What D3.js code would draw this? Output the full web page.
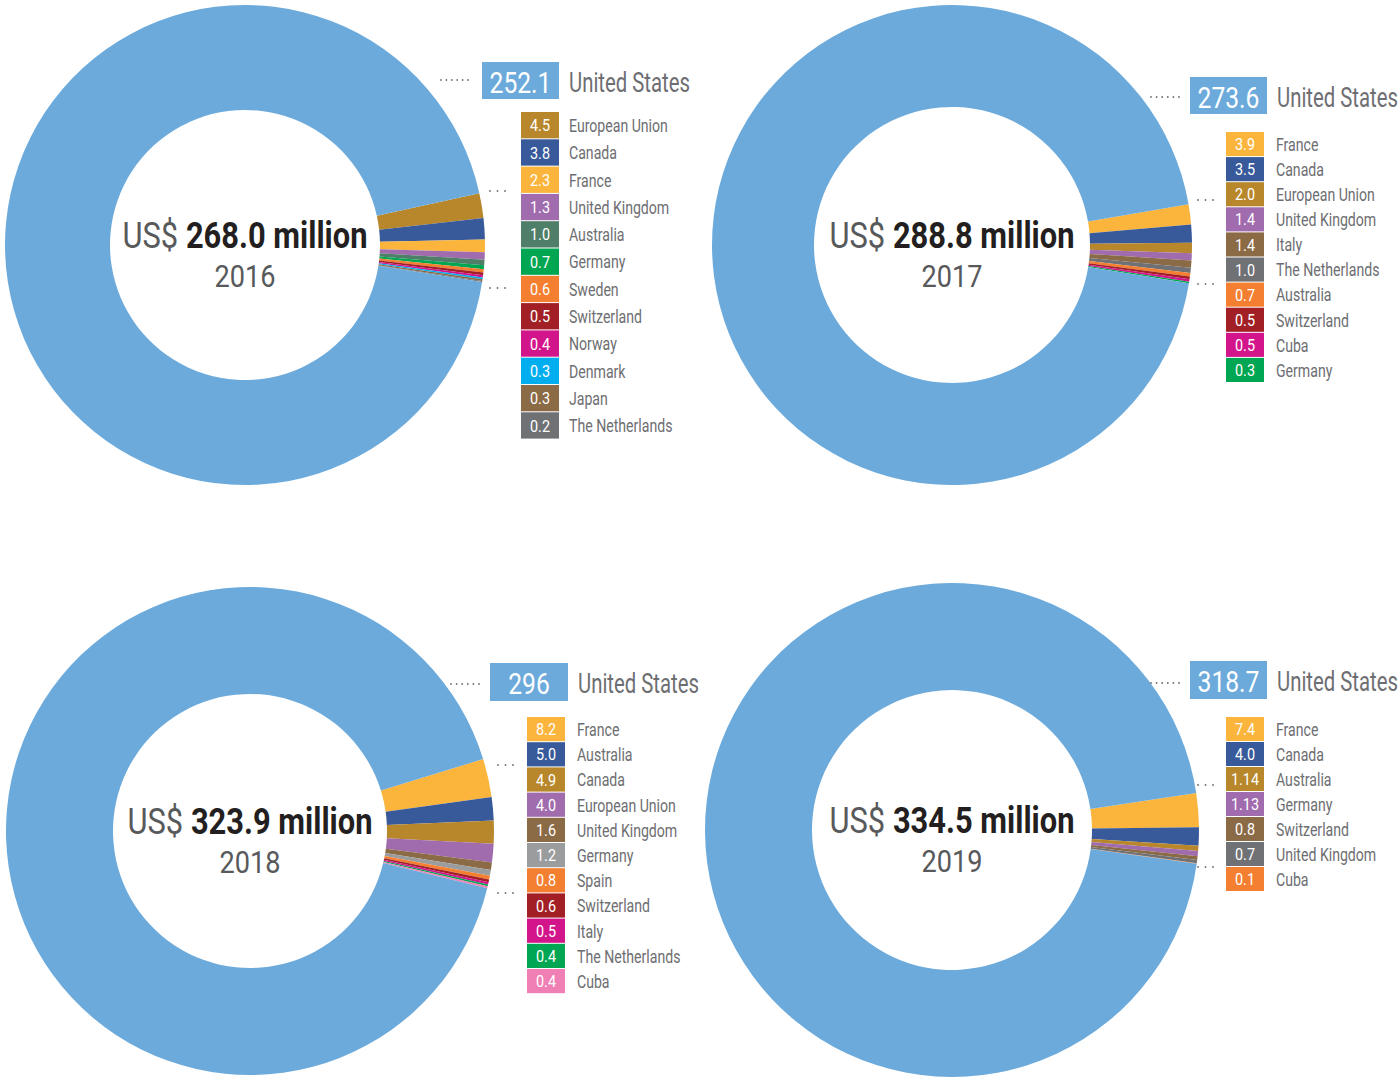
<!DOCTYPE html>
<html>
<head>
<meta charset="utf-8">
<script src="https://cdn.jsdelivr.net/npm/d3@7/dist/d3.min.js"></script>
<style>
  html, body { margin: 0; padding: 0; background: #ffffff; }
  svg { display: block; }
  text { font-family: "Roboto", "Liberation Sans", sans-serif; }
</style>
</head>
<body>
<svg id="chart" width="1398" height="1077"></svg>
<script>
// ---------------- DATA ----------------
const years = ["2016", "2017", "2018", "2019"];
const totalLabels = ["268.0", "288.8", "323.9", "334.5"];
const usValues = [252.1, 273.6, 296, 318.7];

const countries2016 = ["European Union", "Canada", "France", "United Kingdom", "Australia", "Germany", "Sweden", "Switzerland", "Norway", "Denmark", "Japan", "The Netherlands"];
const values2016 = [4.5, 3.8, 2.3, 1.3, 1.0, 0.7, 0.6, 0.5, 0.4, 0.3, 0.3, 0.2];
const colors2016 = ["#b8872b", "#385a9a", "#fbb53c", "#a06cae", "#4f7f68", "#00a652", "#f47f30", "#a11f25", "#d3158b", "#00aeef", "#8b6a46", "#6f7175"];

const countries2017 = ["France", "Canada", "European Union", "United Kingdom", "Italy", "The Netherlands", "Australia", "Switzerland", "Cuba", "Germany"];
const values2017 = [3.9, 3.5, 2.0, 1.4, 1.4, 1.0, 0.7, 0.5, 0.5, 0.3];
const colors2017 = ["#fbb53c", "#385a9a", "#b8872b", "#a06cae", "#8b6a46", "#6f7175", "#f47f30", "#a11f25", "#d3158b", "#00a652"];

const countries2018 = ["France", "Australia", "Canada", "European Union", "United Kingdom", "Germany", "Spain", "Switzerland", "Italy", "The Netherlands", "Cuba"];
const values2018 = [8.2, 5.0, 4.9, 4.0, 1.6, 1.2, 0.8, 0.6, 0.5, 0.4, 0.4];
const colors2018 = ["#fbb53c", "#385a9a", "#b8872b", "#a06cae", "#8b6a46", "#9b9c9e", "#f47f30", "#a11f25", "#d3158b", "#00a652", "#f07fb5"];

const countries2019 = ["France", "Canada", "Australia", "Germany", "Switzerland", "United Kingdom", "Cuba"];
const values2019 = [7.4, 4.0, 1.14, 1.13, 0.8, 0.7, 0.1];
const colors2019 = ["#fbb53c", "#385a9a", "#b8872b", "#a06cae", "#8b6a46", "#6f7175", "#f47f30"];

const usColor = "#6caadb";
const usName = "United States";

// ---------------- LAYOUT ----------------
const panels = [
  { countries: countries2016, values: values2016, colors: colors2016,
    cx: 245, cy: 245, R: 240, r: 135, tilt: 1.8,
    usBox: [482, 62, 77, 37], usDots: [441, 468, 80],
    boxX: 521, boxW: 38, top: 112, rowH: 27.3, labelX: 569,
    gDots: [490, 191, 288] },
  { countries: countries2017, values: values2017, colors: colors2017,
    cx: 952, cy: 245, R: 240, r: 138, tilt: 0.3,
    usBox: [1190, 77, 77, 37], usDots: [1151, 1179, 97],
    boxX: 1226, boxW: 38, top: 132, rowH: 25.1, labelX: 1276,
    gDots: [1198, 200, 284] },
  { countries: countries2018, values: values2018, colors: colors2018,
    cx: 250, cy: 831, R: 244, r: 137, tilt: 1.8,
    usBox: [490, 663, 78, 38], usDots: [451, 479, 684],
    boxX: 527, boxW: 38, top: 717, rowH: 25.2, labelX: 577,
    gDots: [498, 765, 893] },
  { countries: countries2019, values: values2019, colors: colors2019,
    cx: 952, cy: 830, R: 247, r: 140, tilt: 0.4,
    usBox: [1190, 661, 77, 38], usDots: [1151, 1179, 683],
    boxX: 1226, boxW: 38, top: 717, rowH: 25, labelX: 1276,
    gDots: [1198, 785, 867] }
];

const svg = d3.select("#chart");
const fmtSmall = v => (Math.abs(Math.round(v * 10) - v * 10) < 1e-9 ? v.toFixed(1) : v.toFixed(2));
const fmtUS = d3.format("");
const dotColor = "#6d6e71";
const labelGray = "#6d6e71";

// condensed-text emulation: horizontal scale per text role, derived from reference widths
function measure(str, size, weight) {
  const t = svg.append("text").attr("font-size", size).attr("font-weight", weight || "normal").text(str);
  const w = t.node().getComputedTextLength();
  t.remove();
  return w;
}
const roles = {
  label:  { size: 18, scale: 99 / measure("European Union", 18) },
  usLab:  { size: 28, scale: 121 / measure("United States", 28) },
  usVal:  { size: 30, scale: 62 / measure("252.1", 30) },
  val:    { size: 16, scale: 20 / measure("4.5", 16) },
  year:   { size: 31, scale: 61 / measure("2016", 31) }
};
const mainSize = 36.5;
const mainTarget = 245;

function ctext(parent, x, y, role, anchor, fill, str) {
  const r = roles[role];
  return parent.append("text")
    .attr("transform", `translate(${x},${y}) scale(${r.scale},1)`)
    .attr("font-size", r.size)
    .attr("text-anchor", anchor)
    .attr("fill", fill)
    .text(str);
}

panels.forEach((p, i) => {
  const g = svg.append("g");
  const smallSum = d3.sum(p.values);
  const total = smallSum + usValues[i];
  const smallAngle = smallSum / total * 2 * Math.PI;
  const start = Math.PI / 2 - smallAngle / 2 - p.tilt * Math.PI / 180;

  const data = p.countries.map((c, k) => ({ name: c, value: p.values[k], color: p.colors[k] }))
    .concat([{ name: usName, value: usValues[i], color: usColor }]);

  const pie = d3.pie().sort(null).value(d => d.value)
    .startAngle(start).endAngle(start + 2 * Math.PI);
  const arc = d3.arc().innerRadius(p.r).outerRadius(p.R);

  const donut = g.append("g").attr("transform", `translate(${p.cx},${p.cy})`);
  donut.selectAll("path").data(pie(data)).join("path")
    .attr("d", arc)
    .attr("fill", d => d.data.color);

  // centre label
  const t1 = donut.append("text")
    .attr("text-anchor", "middle")
    .attr("font-size", mainSize);
  t1.append("tspan").attr("fill", "#58595b").text("US$\u00a0");
  t1.append("tspan").attr("fill", "#231f20").attr("font-weight", "bold").text(totalLabels[i] + " million");
  const mw = t1.node().getComputedTextLength();
  t1.attr("transform", `translate(0,3) scale(${mainTarget / mw},1)`);

  ctext(donut, 0, 42, "year", "middle", "#58595b", years[i]);

  // US label box
  const [bx, by, bw, bh] = p.usBox;
  g.append("rect").attr("x", bx).attr("y", by).attr("width", bw).attr("height", bh).attr("fill", usColor);
  ctext(g, bx + bw / 2, by + 30.5, "usVal", "middle", "#ffffff", fmtUS(usValues[i]));
  ctext(g, bx + bw + 10, by + 30, "usLab", "start", labelGray, usName);

  // US dotted leader
  const [dx0, dx1, dy] = p.usDots;
  g.append("g").selectAll("circle").data(d3.range(6)).join("circle")
    .attr("cx", k => dx0 + k * (dx1 - dx0) / 5).attr("cy", dy).attr("r", 0.9).attr("fill", dotColor);

  // group dots
  const [gx, gy0, gy1] = p.gDots;
  [gy0, gy1].forEach(yy => {
    g.append("g").selectAll("circle").data(d3.range(3)).join("circle")
      .attr("cx", k => gx + k * 7.5).attr("cy", yy).attr("r", 0.9).attr("fill", dotColor);
  });

  // legend
  const rows = g.append("g").selectAll("g").data(data.slice(0, p.countries.length)).join("g")
    .attr("transform", (d, k) => `translate(0,${p.top + k * p.rowH})`);
  rows.append("rect")
    .attr("x", p.boxX).attr("y", 0).attr("width", p.boxW).attr("height", p.rowH - 1)
    .attr("fill", d => d.color);
  rows.each(function (d) {
    const row = d3.select(this);
    ctext(row, p.boxX + p.boxW / 2, p.rowH / 2 + 5.6, "val", "middle", "#ffffff", fmtSmall(d.value));
    ctext(row, p.labelX, p.rowH / 2 + 6.3, "label", "start", labelGray, d.name);
  });
});
</script>
</body>
</html>
